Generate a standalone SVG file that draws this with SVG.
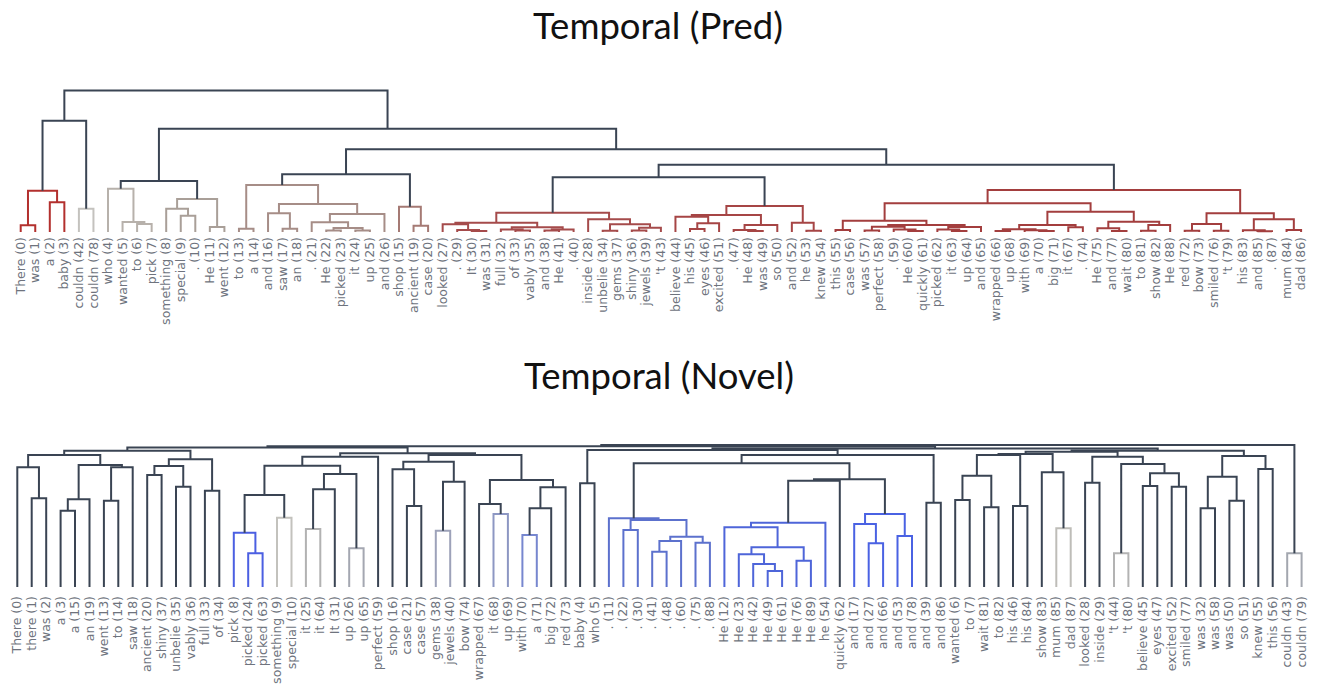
<svg xmlns="http://www.w3.org/2000/svg" width="1318" height="698" viewBox="0 0 1318 698">
<style>
.t{font-family:Lato,"Open Sans",sans-serif;font-size:36.5px;fill:#111;text-anchor:middle}
.lb{font-family:"DejaVu Sans",Verdana,sans-serif;font-size:12.5px;fill:#6e737d;text-anchor:end}
path{fill:none;stroke-width:2}
.dk{stroke:#3a4453}.r1{stroke:#b3302e}.g1{stroke:#c4c2be}.c1{stroke:#b7b1ab}.c2{stroke:#a99f98}.da{stroke:#a68d87}.db{stroke:#a57a74}.ra{stroke:#a54b4b}.rb{stroke:#a64545}.rc{stroke:#a33e3e}
.bp{stroke:#4b5fe2}.gs{stroke:#c3c2bd}.gi{stroke:#b2b2b2}.gu{stroke:#a4a7b1}.gg{stroke:#9da2b9}.gw{stroke:#8d97c3}.ga{stroke:#7787cf}.bd{stroke:#5c71cd}.bh{stroke:#4e65d9}.ba{stroke:#4a62e3}.gm{stroke:#bebdb8}.gt{stroke:#b3b3b3}.gc{stroke:#a3a7af}
</style>
<text class="t" x="658" y="39">Temporal (Pred)</text>
<text class="t" x="659" y="389">Temporal (Novel)</text>
<g id="pred-connectors">
<path class="r1" d="M20.7,232V225.3H35.25V232M49.8,232V202.3H64.35V232M27.98,225.3V190.7H57.08V202.3"/>
<path class="g1" d="M78.9,232V208.7H93.45V232"/>
<path class="c1" d="M137.1,232V224H151.65V232M122.55,232V222H144.38V224M108,232V188.7H133.46V222"/>
<path class="c2" d="M180.75,232V215.7H195.3V232M166.2,232V208.7H188.03V215.7M209.85,232V227H224.4V232M177.11,208.7V199H217.13V227"/>
<path class="da" d="M238.95,232V228.7H253.5V232M282.6,232V228.7H297.15V232M268.05,232V213.3H289.88V228.7M326.25,232V230.5H340.8V232M355.35,232V230.5H369.9V232M333.53,230.5V228H362.63V230.5M311.7,232V222.3H348.08V228M329.89,222.3V214H384.45V232M278.96,213.3V204H357.17V214M246.23,228.7V185H318.07V204"/>
<path class="db" d="M413.55,232V225.7H428.1V232M399,232V206.7H420.83V225.7"/>
<path class="ra" d="M471.75,232V231H486.3V232M457.2,232V230H479.03V231M442.65,232V224.3H468.11V230M515.4,232V230.5H529.95V232M500.85,232V229.5H522.68V230.5M544.5,232V230.5H559.05V232M551.78,230.5V229.5H573.6V232M511.76,229.5V227.3H562.69V229.5M455.38,224.3V222.7H537.22V227.3M602.7,232V230.7H617.25V232M631.8,232V230.5H646.35V232M639.08,230.5V227.7H660.9V232M609.98,230.7V224.3H649.99V227.7M588.15,232V219.3H629.98V224.3M496.3,222.7V212.7H609.07V219.3"/>
<path class="rb" d="M690,232V229H704.55V232M697.28,229V223.3H719.1V232M675.45,232V216.7H708.19V223.3M748.2,232V231H762.75V232M733.65,232V230H755.48V231M744.56,230V225H777.3V232M691.82,216.7V215H760.93V225M806.4,232V230.7H820.95V232M791.85,232V222.7H813.68V230.7M726.38,215V206H802.76V222.7"/>
<path class="rc" d="M835.5,232V230H850.05V232M864.6,232V230.5H879.15V232M908.25,232V231H922.8V232M893.7,232V229.5H915.53V231M871.88,230.5V226.7H904.61V229.5M951.9,232V231H966.45V232M937.35,232V229.5H959.18V231M948.26,229.5V227H981V232M888.25,226.7V225H964.63V227M842.78,230V220.7H926.44V225M995.55,232V231H1010.1V232M1039.2,232V231H1053.75V232M1024.65,232V230.3H1046.48V231M1002.83,231V229.3H1035.56V230.3M1068.3,232V227.3H1082.85V232M1019.2,229.3V225H1075.58V227.3M1111.95,232V231H1126.5V232M1097.4,232V228.3H1119.23V231M1141.05,232V230.7H1155.6V232M1148.33,230.7V225H1170.15V232M1108.31,228.3V221.7H1159.24V225M1047.39,225V211.7H1133.78V221.7M884.61,220.7V203.3H1090.58V211.7M1184.7,232V230.7H1199.25V232M1213.8,232V230.7H1228.35V232M1191.98,230.7V224H1221.08V230.7M1257.45,232V231.3H1272V232M1242.9,232V230.3H1264.73V231.3M1286.55,232V230H1301.1V232M1253.81,230.3V219.3H1293.83V230M1206.53,224V213.3H1273.82V219.3M987.6,203.3V190H1240.17V213.3"/>
<path class="dk" d="M42.53,190.7V120.7H86.18V208.7M120.73,188.7V181H197.12V199M282.15,185V174.3H409.91V206.7M552.68,212.7V177.3H764.57V206M658.63,177.3V164.7H1113.89V190M346.03,174.3V149.3H886.26V164.7M158.93,181V128.7H616.15V149.3M64.35,120.7V90.5H387.54V128.7"/>
</g>
<g id="novel-connectors">
<path class="dk" d="M31.7,587V498.3H46.2V587M17.3,587V467.3H38.95V498.3M60.6,587V510.7H75V587M67.8,510.7V499.3H89.5V587M103.9,587V500.7H118.3V587M111.1,500.7V467.3H132.7V587M78.65,499.3V465H121.9V467.3M28.13,467.3V455H100.28V465M147.2,587V475H161.6V587M176,587V486.7H190.5V587M154.4,475V466H183.25V486.7M204.9,587V490.7H219.3V587M168.83,466V459.3H212.1V490.7M64.2,455V450.7H190.46V459.3"/>
<path class="bp" d="M248.2,587V553.3H262.6V587M233.8,587V532.7H255.4V553.3"/>
<path class="gs" d="M277,587V517.7H291.5V587"/>
<path class="gi" d="M305.9,587V529H320.3V587"/>
<path class="gu" d="M349.2,587V548.3H363.6V587"/>
<path class="gg" d="M435.8,587V530.7H450.2V587"/>
<path class="gw" d="M493.5,587V514H507.9V587"/>
<path class="ga" d="M522.4,587V535H536.8V587"/>
<path class="dk" d="M244.6,532.7V495H284.25V517.7M313.1,529V489.3H334.8V587M323.95,489.3V474H356.4V548.3M264.43,495V465.7H340.18V474M302.3,465.7V456.7H378.1V587M406.9,587V506H421.3V587M392.5,587V469.3H414.1V506M443,530.7V481.7H464.6V587M403.3,469.3V461.7H453.8V481.7M479.1,587V504H500.7V514M529.6,535V508.3H551.2V587M540.4,508.3V487.3H565.6V587M489.9,504V480H553V487.3M428.55,461.7V455H521.45V480M340.2,456.7V453.3H475V455M127.33,450.7V447.5H407.6V453.3M580.1,587V483.3H594.5V587"/>
<path class="bd" d="M652.2,587V551.7H666.6V587M659.4,551.7V541H681.1V587M695.5,587V542.7H709.9V587M670.25,541V536.7H702.7V542.7M623.4,587V530H637.8V587M630.6,530V520H686.48V536.7M608.9,587V518.3H658.54V520"/>
<path class="bh" d="M767.7,587V571H782.1V587M753.2,587V564H774.9V571M738.8,587V554.3H764.05V564M796.5,587V560.7H810.9V587M751.43,554.3V547.3H803.7V560.7M724.4,587V527.3H777.57V547.3M750.98,527.3V522.7H825.4V587"/>
<path class="ba" d="M868.7,587V543.3H883.1V587M854.2,587V524H875.9V543.3M897.5,587V536H912V587M865.05,524V514H904.75V536"/>
<path class="gm" d="M1056.3,587V528.3H1070.7V587"/>
<path class="gt" d="M1114,587V553.3H1128.4V587"/>
<path class="gc" d="M1287.2,587V553.3H1301.6V587"/>
<path class="dk" d="M788.19,522.7V480.7H839.8V587M814,480.7V479.3H884.9V514M633.72,518.3V463.3H849.45V479.3M926.4,587V502.7H940.8V587M741.59,463.3V455H933.6V502.7M587.3,483.3V450H837.6V455M955.2,587V500H969.7V587M984.1,587V507.3H998.5V587M962.45,500V475.7H991.3V507.3M1013,587V506H1027.4V587M976.88,475.7V455H1020.2V506M1041.8,587V472.3H1063.5V528.3M998.54,455V454H1052.65V472.3M1085.1,587V482.7H1099.5V587M1142.8,587V486H1157.3V587M1171.7,587V486.7H1186.1V587M1150.05,486V473.3H1178.9V486.7M1121.2,553.3V464H1164.48V473.3M1092.3,482.7V456.7H1142.84V464M1025.6,454V451.7H1117.57V456.7M1200.6,587V508.3H1215V587M1229.4,587V500.7H1243.9V587M1207.8,508.3V476.7H1236.65V500.7M1258.3,587V469H1272.7V587M1222.23,476.7V456H1265.5V469M1071.59,451.7V450.7H1243.86V456M712.45,450V448.5H1157.73V450.7M267.47,447.5V446.3H935.09V448.5M601.28,446.3V445H1294.4V553.3"/>
</g>
<g id="pred-leaves">
<g id="p0"><text class="lb" transform="translate(24.7,237) rotate(-90)">There (0)</text></g>
<g id="p1"><text class="lb" transform="translate(39.3,237) rotate(-90)">was (1)</text></g>
<g id="p2"><text class="lb" transform="translate(53.8,237) rotate(-90)">a (2)</text></g>
<g id="p3"><text class="lb" transform="translate(68.4,237) rotate(-90)">baby (3)</text></g>
<g id="p4"><text class="lb" transform="translate(82.9,237) rotate(-90)">couldn (42)</text></g>
<g id="p5"><text class="lb" transform="translate(97.5,237) rotate(-90)">couldn (78)</text></g>
<g id="p6"><text class="lb" transform="translate(112,237) rotate(-90)">who (4)</text></g>
<g id="p7"><text class="lb" transform="translate(126.6,237) rotate(-90)">wanted (5)</text></g>
<g id="p8"><text class="lb" transform="translate(141.1,237) rotate(-90)">to (6)</text></g>
<g id="p9"><text class="lb" transform="translate(155.7,237) rotate(-90)">pick (7)</text></g>
<g id="p10"><text class="lb" transform="translate(170.2,237) rotate(-90)">something (8)</text></g>
<g id="p11"><text class="lb" transform="translate(184.8,237) rotate(-90)">special (9)</text></g>
<g id="p12"><text class="lb" transform="translate(199.3,237) rotate(-90)">. (10)</text></g>
<g id="p13"><text class="lb" transform="translate(213.9,237) rotate(-90)">He (11)</text></g>
<g id="p14"><text class="lb" transform="translate(228.4,237) rotate(-90)">went (12)</text></g>
<g id="p15"><text class="lb" transform="translate(243,237) rotate(-90)">to (13)</text></g>
<g id="p16"><text class="lb" transform="translate(257.5,237) rotate(-90)">a (14)</text></g>
<g id="p17"><text class="lb" transform="translate(272.1,237) rotate(-90)">and (16)</text></g>
<g id="p18"><text class="lb" transform="translate(286.6,237) rotate(-90)">saw (17)</text></g>
<g id="p19"><text class="lb" transform="translate(301.2,237) rotate(-90)">an (18)</text></g>
<g id="p20"><text class="lb" transform="translate(315.7,237) rotate(-90)">. (21)</text></g>
<g id="p21"><text class="lb" transform="translate(330.3,237) rotate(-90)">He (22)</text></g>
<g id="p22"><text class="lb" transform="translate(344.8,237) rotate(-90)">picked (23)</text></g>
<g id="p23"><text class="lb" transform="translate(359.4,237) rotate(-90)">it (24)</text></g>
<g id="p24"><text class="lb" transform="translate(373.9,237) rotate(-90)">up (25)</text></g>
<g id="p25"><text class="lb" transform="translate(388.5,237) rotate(-90)">and (26)</text></g>
<g id="p26"><text class="lb" transform="translate(403,237) rotate(-90)">shop (15)</text></g>
<g id="p27"><text class="lb" transform="translate(417.6,237) rotate(-90)">ancient (19)</text></g>
<g id="p28"><text class="lb" transform="translate(432.1,237) rotate(-90)">case (20)</text></g>
<g id="p29"><text class="lb" transform="translate(446.7,237) rotate(-90)">looked (27)</text></g>
<g id="p30"><text class="lb" transform="translate(461.2,237) rotate(-90)">. (29)</text></g>
<g id="p31"><text class="lb" transform="translate(475.8,237) rotate(-90)">It (30)</text></g>
<g id="p32"><text class="lb" transform="translate(490.3,237) rotate(-90)">was (31)</text></g>
<g id="p33"><text class="lb" transform="translate(504.9,237) rotate(-90)">full (32)</text></g>
<g id="p34"><text class="lb" transform="translate(519.4,237) rotate(-90)">of (33)</text></g>
<g id="p35"><text class="lb" transform="translate(534,237) rotate(-90)">vably (35)</text></g>
<g id="p36"><text class="lb" transform="translate(548.5,237) rotate(-90)">and (38)</text></g>
<g id="p37"><text class="lb" transform="translate(563.1,237) rotate(-90)">He (41)</text></g>
<g id="p38"><text class="lb" transform="translate(577.6,237) rotate(-90)">. (40)</text></g>
<g id="p39"><text class="lb" transform="translate(592.2,237) rotate(-90)">inside (28)</text></g>
<g id="p40"><text class="lb" transform="translate(606.7,237) rotate(-90)">unbelie (34)</text></g>
<g id="p41"><text class="lb" transform="translate(621.3,237) rotate(-90)">gems (37)</text></g>
<g id="p42"><text class="lb" transform="translate(635.8,237) rotate(-90)">shiny (36)</text></g>
<g id="p43"><text class="lb" transform="translate(650.4,237) rotate(-90)">jewels (39)</text></g>
<g id="p44"><text class="lb" transform="translate(664.9,237) rotate(-90)">'t (43)</text></g>
<g id="p45"><text class="lb" transform="translate(679.5,237) rotate(-90)">believe (44)</text></g>
<g id="p46"><text class="lb" transform="translate(694,237) rotate(-90)">his (45)</text></g>
<g id="p47"><text class="lb" transform="translate(708.6,237) rotate(-90)">eyes (46)</text></g>
<g id="p48"><text class="lb" transform="translate(723.1,237) rotate(-90)">excited (51)</text></g>
<g id="p49"><text class="lb" transform="translate(737.7,237) rotate(-90)">. (47)</text></g>
<g id="p50"><text class="lb" transform="translate(752.2,237) rotate(-90)">He (48)</text></g>
<g id="p51"><text class="lb" transform="translate(766.8,237) rotate(-90)">was (49)</text></g>
<g id="p52"><text class="lb" transform="translate(781.3,237) rotate(-90)">so (50)</text></g>
<g id="p53"><text class="lb" transform="translate(795.9,237) rotate(-90)">and (52)</text></g>
<g id="p54"><text class="lb" transform="translate(810.4,237) rotate(-90)">he (53)</text></g>
<g id="p55"><text class="lb" transform="translate(825,237) rotate(-90)">knew (54)</text></g>
<g id="p56"><text class="lb" transform="translate(839.5,237) rotate(-90)">this (55)</text></g>
<g id="p57"><text class="lb" transform="translate(854.1,237) rotate(-90)">case (56)</text></g>
<g id="p58"><text class="lb" transform="translate(868.6,237) rotate(-90)">was (57)</text></g>
<g id="p59"><text class="lb" transform="translate(883.2,237) rotate(-90)">perfect (58)</text></g>
<g id="p60"><text class="lb" transform="translate(897.7,237) rotate(-90)">. (59)</text></g>
<g id="p61"><text class="lb" transform="translate(912.3,237) rotate(-90)">He (60)</text></g>
<g id="p62"><text class="lb" transform="translate(926.8,237) rotate(-90)">quickly (61)</text></g>
<g id="p63"><text class="lb" transform="translate(941.4,237) rotate(-90)">picked (62)</text></g>
<g id="p64"><text class="lb" transform="translate(955.9,237) rotate(-90)">it (63)</text></g>
<g id="p65"><text class="lb" transform="translate(970.5,237) rotate(-90)">up (64)</text></g>
<g id="p66"><text class="lb" transform="translate(985,237) rotate(-90)">and (65)</text></g>
<g id="p67"><text class="lb" transform="translate(999.6,237) rotate(-90)">wrapped (66)</text></g>
<g id="p68"><text class="lb" transform="translate(1014.1,237) rotate(-90)">up (68)</text></g>
<g id="p69"><text class="lb" transform="translate(1028.7,237) rotate(-90)">with (69)</text></g>
<g id="p70"><text class="lb" transform="translate(1043.2,237) rotate(-90)">a (70)</text></g>
<g id="p71"><text class="lb" transform="translate(1057.8,237) rotate(-90)">big (71)</text></g>
<g id="p72"><text class="lb" transform="translate(1072.3,237) rotate(-90)">it (67)</text></g>
<g id="p73"><text class="lb" transform="translate(1086.9,237) rotate(-90)">. (74)</text></g>
<g id="p74"><text class="lb" transform="translate(1101.4,237) rotate(-90)">He (75)</text></g>
<g id="p75"><text class="lb" transform="translate(1116,237) rotate(-90)">and (77)</text></g>
<g id="p76"><text class="lb" transform="translate(1130.5,237) rotate(-90)">wait (80)</text></g>
<g id="p77"><text class="lb" transform="translate(1145.1,237) rotate(-90)">to (81)</text></g>
<g id="p78"><text class="lb" transform="translate(1159.6,237) rotate(-90)">show (82)</text></g>
<g id="p79"><text class="lb" transform="translate(1174.2,237) rotate(-90)">He (88)</text></g>
<g id="p80"><text class="lb" transform="translate(1188.7,237) rotate(-90)">red (72)</text></g>
<g id="p81"><text class="lb" transform="translate(1203.3,237) rotate(-90)">bow (73)</text></g>
<g id="p82"><text class="lb" transform="translate(1217.8,237) rotate(-90)">smiled (76)</text></g>
<g id="p83"><text class="lb" transform="translate(1232.4,237) rotate(-90)">'t (79)</text></g>
<g id="p84"><text class="lb" transform="translate(1246.9,237) rotate(-90)">his (83)</text></g>
<g id="p85"><text class="lb" transform="translate(1261.5,237) rotate(-90)">and (85)</text></g>
<g id="p86"><text class="lb" transform="translate(1276,237) rotate(-90)">. (87)</text></g>
<g id="p87"><text class="lb" transform="translate(1290.6,237) rotate(-90)">mum (84)</text></g>
<g id="p88"><text class="lb" transform="translate(1305.1,237) rotate(-90)">dad (86)</text></g>
</g>
<g id="novel-leaves">
<g id="n0"><text class="lb" transform="translate(21.3,596) rotate(-90)">There (0)</text></g>
<g id="n1"><text class="lb" transform="translate(35.7,596) rotate(-90)">there (1)</text></g>
<g id="n2"><text class="lb" transform="translate(50.2,596) rotate(-90)">was (2)</text></g>
<g id="n3"><text class="lb" transform="translate(64.6,596) rotate(-90)">a (3)</text></g>
<g id="n4"><text class="lb" transform="translate(79,596) rotate(-90)">a (15)</text></g>
<g id="n5"><text class="lb" transform="translate(93.5,596) rotate(-90)">an (19)</text></g>
<g id="n6"><text class="lb" transform="translate(107.9,596) rotate(-90)">went (13)</text></g>
<g id="n7"><text class="lb" transform="translate(122.3,596) rotate(-90)">to (14)</text></g>
<g id="n8"><text class="lb" transform="translate(136.7,596) rotate(-90)">saw (18)</text></g>
<g id="n9"><text class="lb" transform="translate(151.2,596) rotate(-90)">ancient (20)</text></g>
<g id="n10"><text class="lb" transform="translate(165.6,596) rotate(-90)">shiny (37)</text></g>
<g id="n11"><text class="lb" transform="translate(180,596) rotate(-90)">unbelie (35)</text></g>
<g id="n12"><text class="lb" transform="translate(194.5,596) rotate(-90)">vably (36)</text></g>
<g id="n13"><text class="lb" transform="translate(208.9,596) rotate(-90)">full (33)</text></g>
<g id="n14"><text class="lb" transform="translate(223.3,596) rotate(-90)">of (34)</text></g>
<g id="n15"><text class="lb" transform="translate(237.8,596) rotate(-90)">pick (8)</text></g>
<g id="n16"><text class="lb" transform="translate(252.2,596) rotate(-90)">picked (24)</text></g>
<g id="n17"><text class="lb" transform="translate(266.6,596) rotate(-90)">picked (63)</text></g>
<g id="n18"><text class="lb" transform="translate(281,596) rotate(-90)">something (9)</text></g>
<g id="n19"><text class="lb" transform="translate(295.5,596) rotate(-90)">special (10)</text></g>
<g id="n20"><text class="lb" transform="translate(309.9,596) rotate(-90)">it (25)</text></g>
<g id="n21"><text class="lb" transform="translate(324.3,596) rotate(-90)">it (64)</text></g>
<g id="n22"><text class="lb" transform="translate(338.8,596) rotate(-90)">It (31)</text></g>
<g id="n23"><text class="lb" transform="translate(353.2,596) rotate(-90)">up (26)</text></g>
<g id="n24"><text class="lb" transform="translate(367.6,596) rotate(-90)">up (65)</text></g>
<g id="n25"><text class="lb" transform="translate(382.1,596) rotate(-90)">perfect (59)</text></g>
<g id="n26"><text class="lb" transform="translate(396.5,596) rotate(-90)">shop (16)</text></g>
<g id="n27"><text class="lb" transform="translate(410.9,596) rotate(-90)">case (21)</text></g>
<g id="n28"><text class="lb" transform="translate(425.3,596) rotate(-90)">case (57)</text></g>
<g id="n29"><text class="lb" transform="translate(439.8,596) rotate(-90)">gems (38)</text></g>
<g id="n30"><text class="lb" transform="translate(454.2,596) rotate(-90)">jewels (40)</text></g>
<g id="n31"><text class="lb" transform="translate(468.6,596) rotate(-90)">bow (74)</text></g>
<g id="n32"><text class="lb" transform="translate(483.1,596) rotate(-90)">wrapped (67)</text></g>
<g id="n33"><text class="lb" transform="translate(497.5,596) rotate(-90)">it (68)</text></g>
<g id="n34"><text class="lb" transform="translate(511.9,596) rotate(-90)">up (69)</text></g>
<g id="n35"><text class="lb" transform="translate(526.4,596) rotate(-90)">with (70)</text></g>
<g id="n36"><text class="lb" transform="translate(540.8,596) rotate(-90)">a (71)</text></g>
<g id="n37"><text class="lb" transform="translate(555.2,596) rotate(-90)">big (72)</text></g>
<g id="n38"><text class="lb" transform="translate(569.6,596) rotate(-90)">red (73)</text></g>
<g id="n39"><text class="lb" transform="translate(584.1,596) rotate(-90)">baby (4)</text></g>
<g id="n40"><text class="lb" transform="translate(598.5,596) rotate(-90)">who (5)</text></g>
<g id="n41"><text class="lb" transform="translate(612.9,596) rotate(-90)">. (11)</text></g>
<g id="n42"><text class="lb" transform="translate(627.4,596) rotate(-90)">. (22)</text></g>
<g id="n43"><text class="lb" transform="translate(641.8,596) rotate(-90)">. (30)</text></g>
<g id="n44"><text class="lb" transform="translate(656.2,596) rotate(-90)">. (41)</text></g>
<g id="n45"><text class="lb" transform="translate(670.6,596) rotate(-90)">. (48)</text></g>
<g id="n46"><text class="lb" transform="translate(685.1,596) rotate(-90)">. (60)</text></g>
<g id="n47"><text class="lb" transform="translate(699.5,596) rotate(-90)">. (75)</text></g>
<g id="n48"><text class="lb" transform="translate(713.9,596) rotate(-90)">. (88)</text></g>
<g id="n49"><text class="lb" transform="translate(728.4,596) rotate(-90)">He (12)</text></g>
<g id="n50"><text class="lb" transform="translate(742.8,596) rotate(-90)">He (23)</text></g>
<g id="n51"><text class="lb" transform="translate(757.2,596) rotate(-90)">He (42)</text></g>
<g id="n52"><text class="lb" transform="translate(771.7,596) rotate(-90)">He (49)</text></g>
<g id="n53"><text class="lb" transform="translate(786.1,596) rotate(-90)">He (61)</text></g>
<g id="n54"><text class="lb" transform="translate(800.5,596) rotate(-90)">He (76)</text></g>
<g id="n55"><text class="lb" transform="translate(814.9,596) rotate(-90)">He (89)</text></g>
<g id="n56"><text class="lb" transform="translate(829.4,596) rotate(-90)">he (54)</text></g>
<g id="n57"><text class="lb" transform="translate(843.8,596) rotate(-90)">quickly (62)</text></g>
<g id="n58"><text class="lb" transform="translate(858.2,596) rotate(-90)">and (17)</text></g>
<g id="n59"><text class="lb" transform="translate(872.7,596) rotate(-90)">and (27)</text></g>
<g id="n60"><text class="lb" transform="translate(887.1,596) rotate(-90)">and (66)</text></g>
<g id="n61"><text class="lb" transform="translate(901.5,596) rotate(-90)">and (53)</text></g>
<g id="n62"><text class="lb" transform="translate(916,596) rotate(-90)">and (78)</text></g>
<g id="n63"><text class="lb" transform="translate(930.4,596) rotate(-90)">and (39)</text></g>
<g id="n64"><text class="lb" transform="translate(944.8,596) rotate(-90)">and (86)</text></g>
<g id="n65"><text class="lb" transform="translate(959.2,596) rotate(-90)">wanted (6)</text></g>
<g id="n66"><text class="lb" transform="translate(973.7,596) rotate(-90)">to (7)</text></g>
<g id="n67"><text class="lb" transform="translate(988.1,596) rotate(-90)">wait (81)</text></g>
<g id="n68"><text class="lb" transform="translate(1002.5,596) rotate(-90)">to (82)</text></g>
<g id="n69"><text class="lb" transform="translate(1017,596) rotate(-90)">his (46)</text></g>
<g id="n70"><text class="lb" transform="translate(1031.4,596) rotate(-90)">his (84)</text></g>
<g id="n71"><text class="lb" transform="translate(1045.8,596) rotate(-90)">show (83)</text></g>
<g id="n72"><text class="lb" transform="translate(1060.3,596) rotate(-90)">mum (85)</text></g>
<g id="n73"><text class="lb" transform="translate(1074.7,596) rotate(-90)">dad (87)</text></g>
<g id="n74"><text class="lb" transform="translate(1089.1,596) rotate(-90)">looked (28)</text></g>
<g id="n75"><text class="lb" transform="translate(1103.5,596) rotate(-90)">inside (29)</text></g>
<g id="n76"><text class="lb" transform="translate(1118,596) rotate(-90)">'t (44)</text></g>
<g id="n77"><text class="lb" transform="translate(1132.4,596) rotate(-90)">'t (80)</text></g>
<g id="n78"><text class="lb" transform="translate(1146.8,596) rotate(-90)">believe (45)</text></g>
<g id="n79"><text class="lb" transform="translate(1161.3,596) rotate(-90)">eyes (47)</text></g>
<g id="n80"><text class="lb" transform="translate(1175.7,596) rotate(-90)">excited (52)</text></g>
<g id="n81"><text class="lb" transform="translate(1190.1,596) rotate(-90)">smiled (77)</text></g>
<g id="n82"><text class="lb" transform="translate(1204.6,596) rotate(-90)">was (32)</text></g>
<g id="n83"><text class="lb" transform="translate(1219,596) rotate(-90)">was (58)</text></g>
<g id="n84"><text class="lb" transform="translate(1233.4,596) rotate(-90)">was (50)</text></g>
<g id="n85"><text class="lb" transform="translate(1247.9,596) rotate(-90)">so (51)</text></g>
<g id="n86"><text class="lb" transform="translate(1262.3,596) rotate(-90)">knew (55)</text></g>
<g id="n87"><text class="lb" transform="translate(1276.7,596) rotate(-90)">this (56)</text></g>
<g id="n88"><text class="lb" transform="translate(1291.2,596) rotate(-90)">couldn (43)</text></g>
<g id="n89"><text class="lb" transform="translate(1305.6,596) rotate(-90)">couldn (79)</text></g>
</g>
</svg>
